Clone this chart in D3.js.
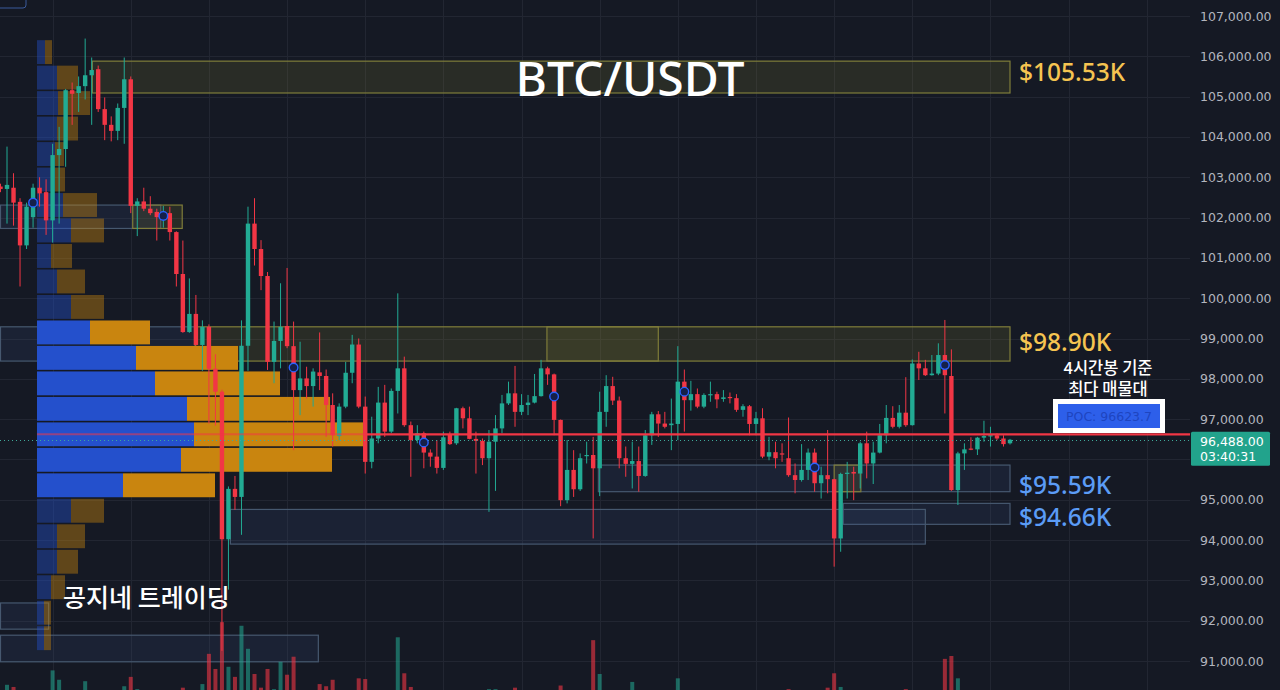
<!DOCTYPE html>
<html><head><meta charset="utf-8">
<script src="https://cdn.jsdelivr.net/npm/d3@7"></script>
<style>html,body{margin:0;padding:0;background:#151924;overflow:hidden}</style>
</head><body>
<svg id="c" width="1280" height="690"></svg>
<script>
// ---------- DATA ----------
const opens  = [102770,102710,102740,102390,101310,102010,102740,102630,101930,103550,103700,105160,105090,105260,105530,105680,104690,104300,104150,104720,105430,102290,102400,102220,102140,102010,102110,101640,100600,99160,99610,98840,99290,98250,97680,94020,95270,95070,98820,101850,101220,100550,98420,98940,99310,98810,97720,98010,97820,98160,98070,97350,96580,97310,98150,98850,97310,95940,96520,97410,96690,97700,98260,96850,96480,96650,96170,96070,95790,96630,96400,97270,97020,96510,96460,96030,96440,96770,97390,97640,97180,97350,97410,97570,98260,98110,96980,94990,95740,95260,96080,96110,95780,97180,97820,97460,96030,95890,95960,95590,96600,97120,96890,96850,96880,97930,97470,97620,97310,97600,97620,97500,97550,97520,97230,97320,96880,97020,96070,96180,96150,96030,95610,95490,95740,96170,95410,95610,95510,94040,95640,95690,95650,96400,95900,96170,96600,97030,96810,97160,96850,98380,98260,98090,98130,98590,98070,95240,96150,96270,96250,96540,96580,96600,96520,96400];
const highs  = [102840,103760,103100,102480,102370,102840,103000,102950,103830,104250,105190,105350,105500,106440,105970,105770,104980,104510,104830,105970,105500,102480,102740,102530,102220,102290,102270,101660,101430,100490,100080,99450,99350,98610,97730,95330,95590,99450,102270,102480,101440,100650,99420,100370,100750,99420,98920,98300,98260,99150,98230,97640,97390,98420,99090,99000,97560,97060,97800,97850,97760,100120,98550,96940,96850,96690,96250,96480,96690,96690,97280,97310,97310,96690,96520,96730,97100,97600,97930,98320,97620,97600,98120,98470,98300,98130,96990,96480,96230,96150,96440,96560,97680,98090,98050,97560,96320,96440,96320,96730,97180,97200,97180,97510,98810,98230,97950,97760,97640,97930,97680,97720,97660,97620,97370,97350,97180,97270,96560,96440,96400,97040,95900,96380,96270,96270,95820,96730,95520,95670,95940,95820,96440,96690,96440,96880,97350,97320,97350,98040,98480,98670,98470,98590,98880,99460,98730,96190,96400,96550,96560,96960,96810,96650,96600,96510];
const lows   = [102630,101850,101800,100290,101220,101750,102270,101570,101380,101850,103260,104300,104620,104930,104300,104620,103920,103890,103920,103830,102110,101540,102160,102060,101430,101750,101430,100290,99140,99140,98820,98200,96890,96840,91250,92770,94750,94130,98200,100810,100200,98220,97890,98260,98760,96230,97100,97510,97310,97720,96560,96320,96480,97270,97890,97270,95650,95780,96400,96560,96650,97140,96810,95570,96400,95780,95820,95650,95740,96360,96360,96770,96500,95650,95860,94700,95220,96650,97350,96810,97100,97100,97390,97560,97850,96600,94840,94910,95070,95220,95900,94040,95090,96810,97350,95780,95570,95280,95200,95570,96360,96560,96770,96230,96480,96690,97210,97270,97270,97430,97270,97430,97390,97180,97060,96600,96600,96030,95980,95780,95940,95570,95160,95450,95490,95200,95030,95160,93340,93710,95030,94990,95280,95530,95390,96150,96400,96770,96770,96810,96840,97970,98070,98080,98090,97140,95220,94870,95740,96230,96110,96440,96320,96480,96320,96370];
const closes = [102710,102810,102370,101310,102270,102740,102600,101930,103550,103700,105160,105070,105260,105530,105660,104690,104300,104150,104720,105430,102290,102400,102220,102110,102010,102110,101640,100600,99160,99610,98840,99290,98250,97680,94020,95270,95070,98820,101850,101220,100550,98420,98940,99290,98810,97720,98010,97820,98180,98070,97350,96600,97310,98150,98850,97310,95940,96520,97410,96690,97700,98260,96850,96480,96650,96170,96070,95790,96550,96380,97270,97020,96510,96460,96030,96440,96770,97390,97640,97180,97350,97410,97570,98260,98110,96980,94990,95740,95260,96030,96110,95780,97180,97820,97460,96030,95890,95960,95590,96600,97120,96890,96810,96890,97930,97470,97620,97310,97600,97620,97490,97540,97520,97230,97320,96880,97020,96070,96180,96030,96130,95610,95490,95740,96170,95410,95610,95510,94040,95640,95670,95650,96400,95900,96170,96600,97030,96810,97160,96850,98380,98260,98090,98130,98590,98090,95240,96150,96250,96250,96540,96580,96600,96520,96380,96488];
const volumes = [
  2,10,7,2,2,2,2,2,30,17,2,2,
  2,15,2,2,2,2,2,8,21,4,2,2,
  2,2,2,2,6,2,2,11,53,32,97,35,
  21,92,60,25,6,32,4,42,24,49,2,2,
  2,11,8,17,2,2,2,19,18,2,2,2,
  2,76,26,7,2,2,2,2,2,2,2,2,
  2,2,2,4,4,2,2,6,2,2,2,2,
  2,2,9,2,2,2,2,72,25,2,2,2,
  2,14,2,2,2,2,2,2,19,2,2,2,
  2,2,2,2,2,2,2,2,2,2,2,2,
  2,4,2,2,2,2,2,6,26,7,2,2,
  2,2,2,2,2,2,2,4,2,2,2,2,
  2,46,50,19,2,2,2,2,2,2,2,2];
const priceTicks = [107000,106000,105000,104000,103000,102000,101000,100000,99000,98000,97000,96000,95000,94000,93000,92000,91000];
// volume profile rows, top (high price) to bottom
const profileUp   = [8,20,21,20,18,18,26,34,14,20,34,53,99,118,150,157,144,86,34,20,20,14,7,7];
const profileDown = [7,21,32,21,9,10,34,33,21,28,33,60,102,125,143,169,151,92,33,28,21,14,7,7];
const profileHigh = 106420, profileLow = 91250;
const valueAreaFirst = 11, valueAreaLast = 17;
const pocPrice = 96623.7;
const lastPrice = 96488, lastTimer = "03:40:31";
const markerIdx   = [5,25,45,65,85,105,125,145];
const markerPrice = [102370,102040,98280,96420,97560,97680,95800,98340];
// zones (candle index start/end, price top/bottom)
const zoneKind   = ["gold","blue","gold","gold","blue","gold","blue","gold","blue","blue","blue","blue"];
const zoneStart  = [14.1,0,29.9,83.9,0,20.3,91.8,128,129.4,35.3,0,0];
const zoneEnd    = [155,29.9,101,155,24.6,27.9,155,132.1,155,142,48.8,7.4];
const zoneTop    = [105880,99290,99290,99290,102310,102310,95860,95860,94910,94760,91640,92440];
const zoneBottom = [105090,98440,98440,98440,101730,101730,95200,95200,94390,93900,90980,91790];
const levelText  = ["$105.53K","$98.90K","$95.59K","$94.66K"];
const levelColor = ["#f5c451","#f5c451","#5b9cf6","#5b9cf6"];
const noteLines  = ["4시간봉 기준","최다 매물대"];

// ---------- CHART ----------
const svg = d3.select('#c');
const plotRight = 1190;
const x = d3.scaleLinear().domain([0,155]).range([0.5,1010]);
const y = d3.scaleLinear().domain([91000,107000]).range([661,16]);
const vy = d3.scaleLinear().domain([0,100]).range([692,620]);
const px = d3.scaleLinear().domain([0,330]).range([37,367]);
const UP = "#22ab94", DN = "#f23645";

svg.append('rect').attr('width',1280).attr('height',690).attr('fill','#151924');

// grid
const g = svg.append('g');
g.selectAll('line.h').data(priceTicks).join('line')
  .attr('x1',0).attr('x2',plotRight)
  .attr('y1',d=>Math.round(y(d))+0.5).attr('y2',d=>Math.round(y(d))+0.5)
  .attr('stroke','#222632').attr('stroke-width',1);
const vIdx = d3.range(8,180,12);
g.selectAll('line.v').data(vIdx).join('line')
  .attr('x1',d=>Math.round(x(d))+0.5).attr('x2',d=>Math.round(x(d))+0.5)
  .attr('y1',0).attr('y2',690)
  .attr('stroke','#222632').attr('stroke-width',1);

// zones
const zones = zoneKind.map((k,i)=>({k,s:zoneStart[i],e:zoneEnd[i],t:zoneTop[i],b:zoneBottom[i]}));
svg.append('g').selectAll('rect').data(zones).join('rect')
  .attr('x',d=>x(d.s)).attr('width',d=>x(d.e)-x(d.s))
  .attr('y',d=>y(d.t)).attr('height',d=>y(d.b)-y(d.t))
  .attr('fill',d=>d.k==='gold'?'rgba(125,122,50,0.20)':'rgba(60,90,135,0.16)')
  .attr('stroke',d=>d.k==='gold'?'#7f7d3a':'#46586f')
  .attr('stroke-width',1.2);

// volume profile
const nRows = profileUp.length;
const rowH = (y(profileLow)-y(profileHigh))/nRows;
const prof = svg.append('g');
profileUp.forEach((u,i)=>{
  const dn = profileDown[i];
  const inVA = i>=valueAreaFirst && i<=valueAreaLast;
  const op = inVA?1:0.42;
  const ry = y(profileHigh)+i*rowH+0.8;
  prof.append('rect').attr('x',px(0)).attr('width',px(u)-px(0)).attr('y',ry).attr('height',rowH-1.6)
    .attr('fill','#2450cc').attr('opacity',op);
  prof.append('rect').attr('x',px(u)).attr('width',px(u+dn)-px(u)).attr('y',ry).attr('height',rowH-1.6)
    .attr('fill','#c9850f').attr('opacity',op);
});

// candles
const candles = opens.map((o,i)=>({i,o,h:highs[i],l:lows[i],c:closes[i],v:volumes[i],up:closes[i]>=o}));
const cw = 4.4;
const cg = svg.append('g');
cg.selectAll('line').data(candles).join('line')
  .attr('x1',d=>x(d.i)).attr('x2',d=>x(d.i))
  .attr('y1',d=>y(d.h)).attr('y2',d=>y(d.l))
  .attr('stroke',d=>d.up?UP:DN).attr('stroke-width',1);
cg.selectAll('rect').data(candles).join('rect')
  .attr('x',d=>x(d.i)-cw/2).attr('width',cw)
  .attr('y',d=>y(Math.max(d.o,d.c)))
  .attr('height',d=>Math.max(1.2,Math.abs(y(d.o)-y(d.c))))
  .attr('fill',d=>d.up?UP:DN);

// volume bars
svg.append('g').selectAll('rect').data(candles).join('rect')
  .attr('x',d=>x(d.i)-2).attr('width',4)
  .attr('y',d=>vy(d.v)).attr('height',d=>vy(0)-vy(d.v))
  .attr('fill',d=>d.up?'rgba(34,171,148,0.55)':'rgba(242,54,69,0.6)');

// POC line
const pocY = y(pocPrice);
svg.append('line').attr('x1',px(0)).attr('x2',px(330)).attr('y1',pocY).attr('y2',pocY)
  .attr('stroke','rgba(242,54,69,0.55)').attr('stroke-width',2);
svg.append('line').attr('x1',px(330)).attr('x2',plotRight).attr('y1',pocY).attr('y2',pocY)
  .attr('stroke',DN).attr('stroke-width',2.2);

// last price dotted line
const lpY = Math.round(y(lastPrice))+0.5;
svg.append('line').attr('x1',0).attr('x2',plotRight).attr('y1',lpY).attr('y2',lpY)
  .attr('stroke','#3fa99a').attr('stroke-width',1).attr('stroke-dasharray','1,3');

// markers
svg.append('g').selectAll('circle').data(markerIdx.map((m,i)=>({m,p:markerPrice[i]}))).join('circle')
  .attr('cx',d=>x(d.m)).attr('cy',d=>y(d.p)).attr('r',4.3)
  .attr('fill','#15204a').attr('stroke','#2962ff').attr('stroke-width',1.4);

// price axis (labels hidden under the last-price tag are skipped)
const tagY = y(lastPrice);
const visibleTicks = priceTicks.filter(p=>{const py=y(p); return py<tagY-16 || py>tagY+34;});
const axis = d3.axisRight(y).tickValues(visibleTicks).tickFormat(d3.format(",.2f")).tickSize(0).tickPadding(0);
const ag = svg.append('g').attr('transform','translate(1200,0)').call(axis);
ag.select('.domain').remove();
ag.selectAll('text').attr('fill','#b2b5be').attr('font-size','12.5px')
  .attr('font-family','"DejaVu Sans", sans-serif').attr('text-anchor','start');

// last price tag
svg.append('rect').attr('x',1191).attr('y',tagY-8).attr('width',79).attr('height',34).attr('rx',1.5).attr('fill','#22a38c');
svg.append('text').attr('x',1200).attr('y',tagY+6).text(d3.format(",.2f")(lastPrice))
  .attr('fill','#ffffff').attr('font-size','12.5px').attr('font-family','"DejaVu Sans", sans-serif');
svg.append('text').attr('x',1200).attr('y',tagY+21).text(lastTimer)
  .attr('fill','#ffffff').attr('font-size','12.5px').attr('font-family','"DejaVu Sans", sans-serif');

// annotations
const T = svg.append('g').attr('font-family','"Noto Sans","Noto Sans CJK KR",sans-serif');
T.append('text').attr('x',630).attr('y',96).attr('text-anchor','middle').text('BTC/USDT')
  .attr('fill','#ffffff').attr('font-size','48px').attr('font-weight',500);
const levelY = [81,351,494,526];
levelText.forEach((t,i)=>{
  T.append('text').attr('x',1019).attr('y',levelY[i]).text(t)
    .attr('fill',levelColor[i]).attr('font-size','24.5px').attr('font-weight',500);
});
noteLines.forEach((t,i)=>{
  T.append('text').attr('x',1108).attr('y',374+i*20.5).attr('text-anchor','middle').text(t)
    .attr('fill','#ffffff').attr('font-size','16.5px').attr('font-weight',500)
    .attr('font-family','"Noto Sans CJK KR",sans-serif');
});
T.append('rect').attr('x',1053).attr('y',399).attr('width',112).attr('height',34).attr('fill','#ffffff');
T.append('rect').attr('x',1058).attr('y',404).attr('width',102).attr('height',24).attr('fill','#2d5fea');
T.append('text').attr('x',1109).attr('y',420.5).attr('text-anchor','middle').text('POC: ' + pocPrice)
  .attr('fill','#1e45c0').attr('font-size','12.5px').attr('font-family','"DejaVu Sans", sans-serif');
T.append('text').attr('x',63).attr('y',607).text('공지네 트레이딩')
  .attr('fill','#ffffff').attr('font-size','25px').attr('font-weight',500)
  .attr('font-family','"Noto Sans CJK KR",sans-serif');

// top-left UI stub
svg.append('rect').attr('x',-4).attr('y',-6).attr('width',30).attr('height',14).attr('rx',3)
  .attr('fill','none').attr('stroke','#3a5a9a').attr('stroke-width',1);
</script>
</body></html>
